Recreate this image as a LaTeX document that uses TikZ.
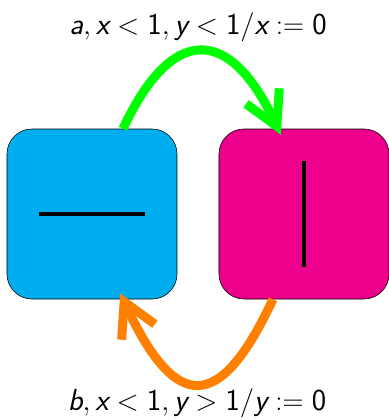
\documentclass[tikz,border=0pt]{standalone}
\usepackage{tikz}
\usetikzlibrary{arrows.meta}
\definecolor{boxcyan}{RGB}{0,174,239}
\definecolor{boxmagenta}{RGB}{236,0,140}
\definecolor{flowgreen}{RGB}{0,255,0}
\definecolor{floworange}{RGB}{255,128,0}
\newcommand{\sv}[1]{\textsf{\itshape #1}}
\newcommand{\sn}[1]{\textsf{#1}}

\begin{document}
\begin{tikzpicture}[
  box/.style={draw=black,line width=0.5pt,rounded corners=0.75cm,minimum width=5.1cm,minimum height=5.1cm,inner sep=0pt},
  flow/.style={line width=0.27cm,-{Straight Barb[length=1.0cm,width=1.1cm]},shorten >=-0.2cm},
  lbl/.style={font=\fontsize{26}{30}\selectfont}
]
\useasboundingbox (0,0) rectangle (11.67,12.6);

% the two states
\node[box,fill=boxcyan] (minus) at (2.76,6.18) {};
\node[box,fill=boxmagenta] (plus) at (9.12,6.18) {};
\draw[line width=0.12cm] ([xshift=-1.6cm]minus.center) -- ([xshift=1.6cm]minus.center);
\draw[line width=0.12cm] ([yshift=1.6cm]plus.center) -- ([yshift=-1.6cm]plus.center);

% transitions
\draw[flow,flowgreen] (minus.70) to[out=65,in=115,looseness=1.9] (plus.107);
\draw[flow,floworange] (plus.250) to[out=-115,in=-65,looseness=2.15] (minus.290);

\node[lbl] (top) at (5.94,11.78) {$\sv{a}, \sv{x} < \sn{1}, \sv{y} < \sn{1}/\sv{x} := \sn{0}$};
\node[lbl] (bot) at (5.91,0.5) {$\sv{b}, \sv{x} < \sn{1}, \sv{y} > \sn{1}/\sv{y} := \sn{0}$};
\end{tikzpicture}
\end{document}
